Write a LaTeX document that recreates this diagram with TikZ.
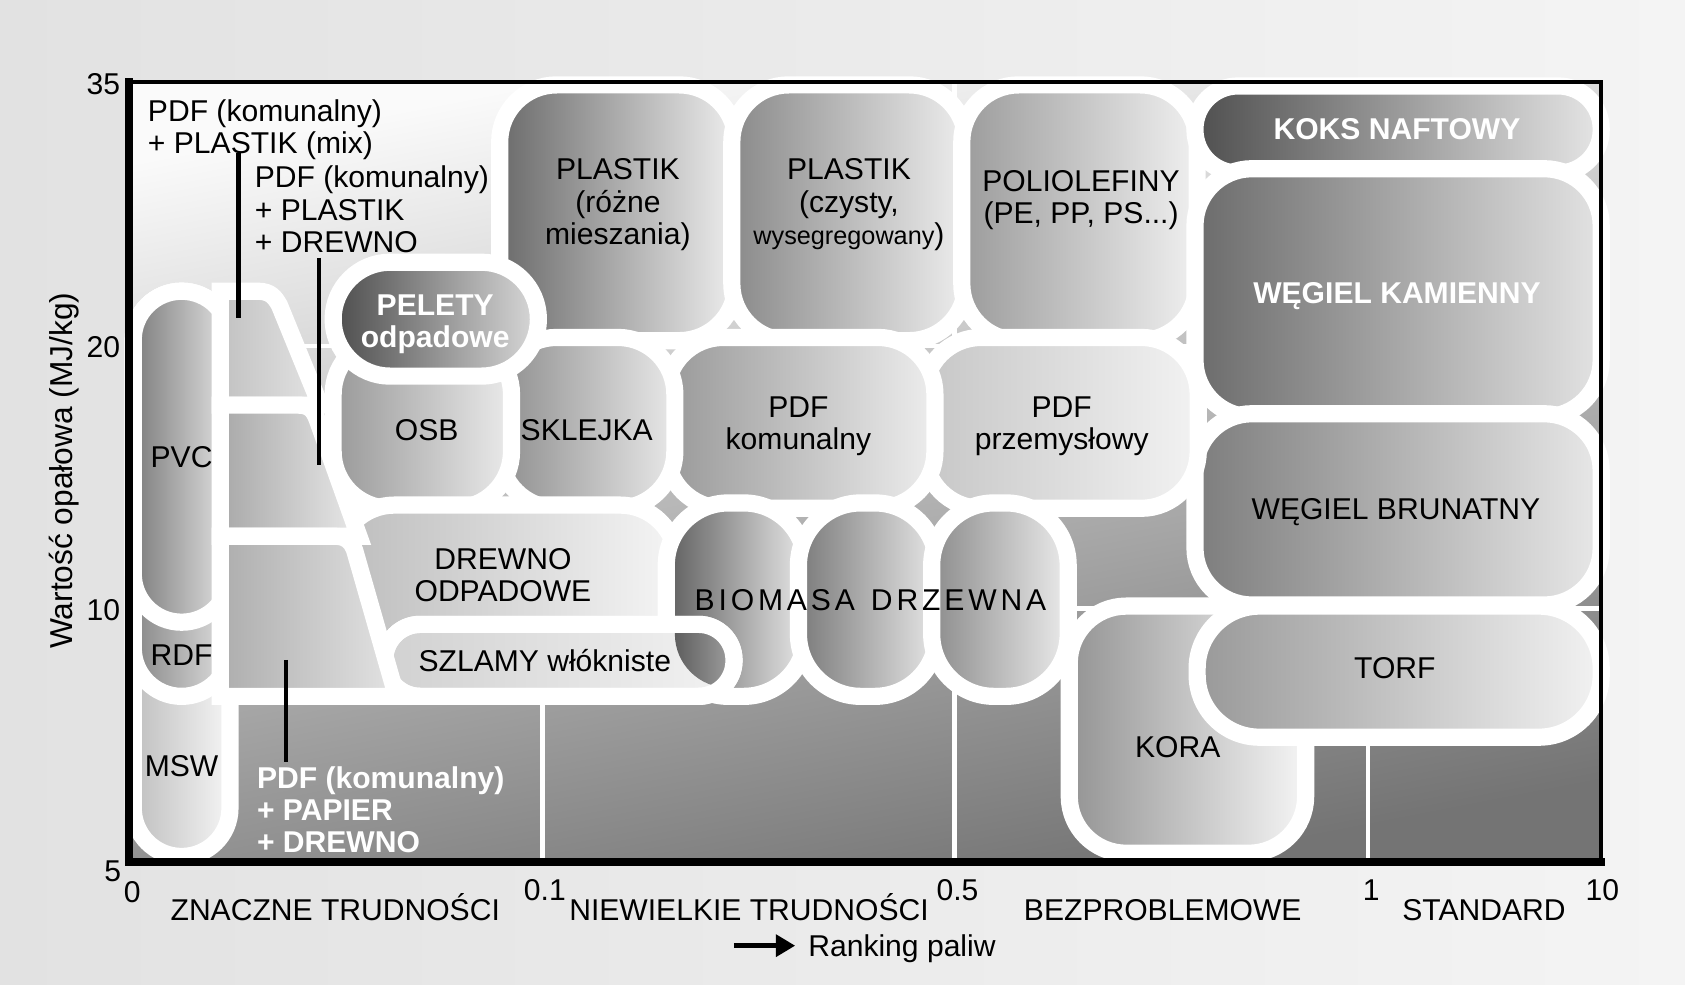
\documentclass[tikz,border=0pt]{standalone}
\usepackage{fontspec}
\setmainfont{Liberation Sans}
\usetikzlibrary{arrows.meta}
\definecolor{bgL}{HTML}{E2E2E2}
\definecolor{bgR}{HTML}{F4F4F4}
\definecolor{plotT}{HTML}{FAFAFA}
\definecolor{plotB}{HTML}{747474}
\newcommand\lsp{\kern3.6pt}
\begin{document}
\begin{tikzpicture}[x=1pt,y=-1pt,
  blob/.style 2 args={draw=white, line width=16pt, left color=white!#1!black, right color=white!#2!black},
  ringline/.style={draw=white, line width=16pt},
  lbl/.style={font=\fontsize{28}{30}\selectfont, inner sep=0pt, text=black},
  wlbl/.style={font=\fontsize{28}{30}\selectfont\bfseries, inner sep=0pt, text=white},
  gridline/.style={draw=white, line width=4.5pt},
  pointer/.style={draw=black, line width=4pt},
]
\useasboundingbox (0,0) rectangle (1568,916);
% page background
\shade[left color=bgL, right color=bgR] (0,0) rectangle (1568,916);
% plot area
\shade[top color=plotT, bottom color=plotB, shading angle=11] (120,76) rectangle (1490,802);
\foreach \gx in {505,888,1273} \draw[gridline] (\gx,78) -- (\gx,800);
\foreach \gy in {322,566} \draw[gridline] (122,\gy) -- (1488,\gy);

% top row
\shade[blob={42}{93}, rounded corners=53pt] (465,79) rectangle (685,317);
\shade[blob={54}{93}, rounded corners=53pt] (681,79) rectangle (899,317);
\shade[blob={61}{94}, rounded corners=53pt] (895,79) rectangle (1114,317);
% right column
\shade[blob={31}{90}, rounded corners=40pt] (1112,80) rectangle (1490,161);
\shade[blob={42}{89}, rounded corners=53pt] (1112,157) rectangle (1490,388);
\shade[blob={49}{91}, rounded corners=53pt] (1112,385) rectangle (1490,563);
% middle row
\shade[blob={78}{95}, rounded corners=53pt] (860,314) rectangle (1115,473);
\shade[blob={60}{93}, rounded corners=53pt] (620,314) rectangle (870,473);
\shade[blob={56}{91}, rounded corners=53pt] (465,314) rectangle (628,473);
\shade[blob={60}{92}, rounded corners=53pt] (310,314) rectangle (476,473);
\shade[blob={30}{85}, rounded corners=53pt] (310,244) rectangle (501,350);
% lower row
\shade[blob={74}{96}, rounded corners=53pt] (314,470) rectangle (630,648);
\shade[blob={37}{91}, rounded corners=58pt] (620,468) rectangle (750,648);
\shade[blob={48}{90}, rounded corners=58pt] (743,468) rectangle (872,648);
\shade[blob={55}{92}, rounded corners=58pt] (867,468) rectangle (994,648);
\shade[blob={82}{95}, rounded corners=33pt] (358,581) rectangle (683,648);
\begin{scope}
  \clip[rounded corners=33pt] (358,581) rectangle (683,648);
  \shade[left color=white!37!black, right color=white!91!black, rounded corners=50pt] (628,476) rectangle (742,640);
\end{scope}
\draw[ringline, rounded corners=33pt] (358,581) rectangle (683,648);
% KORA and TORF
\shade[blob={58}{96}, rounded corners=53pt] (995,564) rectangle (1215,794);
\shade[blob={60}{95}, rounded corners=58pt] (1114,564) rectangle (1490,686);
% left group
\shade[blob={75}{96}, rounded corners=45pt] (124,271) rectangle (214,797);
\shade[blob={53}{88}, rounded corners=45pt] (124,271) rectangle (214,648);
\shade[blob={49}{89}, rounded corners=45pt] (124,271) rectangle (214,579);
% bands
\shade[blob={76}{89}] (205,271) -- (240,271) .. controls (252,271) and (256,277) .. (260,284) -- (298,377) -- (205,377) -- cycle;
\shade[blob={66}{91}] (205,377) -- (278,377) .. controls (288,377) and (292,382) .. (295,390) -- (334,499) -- (205,499) -- cycle;
\shade[blob={68}{89}] (205,499) -- (312,499) .. controls (322,499) and (327,504) .. (330,512) -- (369,648) -- (205,648) -- cycle;

% labels in shapes
\node[lbl, align=center] (plastikA) at (575,190.6) {PLASTIK\\(różne\\mieszania)};
\node[lbl, align=center] (plastikB) at (790,190.6) {PLASTIK\\(czysty,\\{\fontsize{23.5}{30}\selectfont wysegregowany})};
\node[lbl, align=center] (polio) at (1006,186) {POLIOLEFINY\\(PE, PP, PS...)};
\node[wlbl, anchor=base] (koks) at (1300,130) {KOKS NAFTOWY};
\node[wlbl, anchor=base] (wk) at (1300,282) {WĘGIEL KAMIENNY};
\node[lbl, anchor=base] (wb) at (1299,483) {WĘGIEL BRUNATNY};
\node[lbl, anchor=base] (torf) at (1298,631) {TORF};
\node[lbl, anchor=base] (kora) at (1096,705) {KORA};
\node[lbl, anchor=base] (bio) at (810,568) {B\lsp I\lsp O\lsp M\lsp A\lsp S\lsp A\lsp{} \lsp D\lsp R\lsp Z\lsp E\lsp W\lsp N\lsp A};
\node[lbl, align=center] (pdfk) at (743,397) {PDF\\komunalny};
\node[lbl, align=center] (pdfp) at (988,397) {PDF\\przemysłowy};
\node[lbl, anchor=base] (skl) at (546,410) {SKLEJKA};
\node[lbl, anchor=base] (osb) at (397,410) {OSB};
\node[lbl, align=center] (drewno) at (468,535) {DREWNO\\ODPADOWE};
\node[lbl, anchor=base] (szl) at (507,625) {SZLAMY włókniste};
\node[wlbl, align=center] (pel) at (405,302) {PELETY\\odpadowe};
\node[lbl, anchor=base] (pvc) at (169,435) {PVC};
\node[lbl, anchor=base] (rdf) at (169,619) {RDF};
\node[lbl, anchor=base] (msw) at (169,723) {MSW};
\node[lbl, align=left, anchor=west] (mixA) at (137.5,120.4) {PDF (komunalny)\\+ PLASTIK (mix)};
\node[lbl, align=left, anchor=west] (mixB) at (237,194.8) {PDF (komunalny)\\+ PLASTIK\\+ DREWNO};
\node[wlbl, align=left, anchor=west] (mixC) at (239,753.3) {PDF (komunalny)\\+ PAPIER\\+ DREWNO};

% pointers
\coordinate (p1a) at (222,142); \coordinate (p1b) at (222,296);
\coordinate (p2a) at (297,240); \coordinate (p2b) at (297,433);
\coordinate (p3a) at (266,614); \coordinate (p3b) at (266,709);
\draw[pointer] (p1a) -- (p1b);
\draw[pointer] (p2a) -- (p2b);
\draw[pointer] (p3a) -- (p3b);

% frame
\draw[line width=4pt, line cap=rect] (120,76) -- (1490,76) -- (1490,802);
\draw[line width=7pt, line cap=rect] (120,76) -- (120,802) -- (1490,802);

% axes labels
\node[lbl, anchor=base east] (y35) at (112,88) {35};
\node[lbl, anchor=base east] (y20) at (112,333) {20};
\node[lbl, anchor=base east] (y10) at (112,577) {10};
\node[lbl, anchor=base east] (y5) at (113,820) {5};
\node[lbl, anchor=base west] (x0) at (115,840) {0};
\node[lbl, anchor=base] (x01) at (507,838) {0.1};
\node[lbl, anchor=base] (x05) at (891,838) {0.5};
\node[lbl, anchor=base] (x1) at (1276,838) {1};
\node[lbl, anchor=base] (x10) at (1491,838) {10};
\node[lbl, anchor=base] (c1) at (312,857) {ZNACZNE TRUDNOŚCI};
\node[lbl, anchor=base] (c2) at (697,857) {NIEWIELKIE TRUDNOŚCI};
\node[lbl, anchor=base] (c3) at (1082,857) {BEZPROBLEMOWE};
\node[lbl, anchor=base] (c4) at (1381,857) {STANDARD};
\coordinate (ar1) at (683,880); \coordinate (ar2) at (740,880);
\draw[line width=5pt, -{Triangle[length=18pt,width=20pt]}] (ar1) -- (ar2);
\node[lbl, anchor=base west] (rank) at (752,890) {Ranking paliw};
\node[lbl, rotate=90, font=\fontsize{29.5}{30}\selectfont] (ylab) at (60,438) {Wartość opałowa (MJ/kg)};
\end{tikzpicture}
\end{document}
